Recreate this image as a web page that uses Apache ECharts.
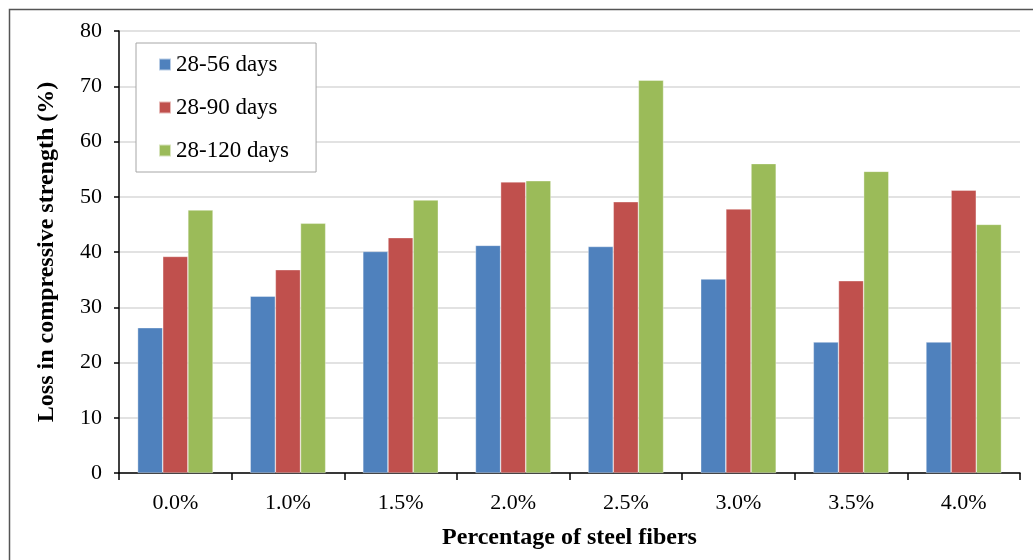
<!DOCTYPE html>
<html>
<head>
<meta charset="utf-8">
<script src="https://cdn.jsdelivr.net/npm/echarts@6/dist/echarts.min.js"></script>
<style>
  html, body { margin: 0; padding: 0; background: #fff; }
  #chart { width: 1033px; height: 560px; }
</style>
</head>
<body>
<div id="chart"></div>
<script>
// Fibre contents along the x axis
const fiberContents = ['0.0%', '1.0%', '1.5%', '2.0%', '2.5%', '3.0%', '3.5%', '4.0%'];

// Loss in compressive strength (%) for each curing interval
const loss28to56 = [26.3, 32.0, 40.1, 41.2, 41.0, 35.1, 23.7, 23.7];
const loss28to90 = [39.2, 36.8, 42.6, 52.7, 49.1, 47.8, 34.8, 51.2];
const loss28to120 = [47.6, 45.2, 49.4, 52.9, 71.1, 56.0, 54.6, 45.0];

const seriesNames = ['28-56 days', '28-90 days', '28-120 days'];
const seriesColors = ['#4F81BD', '#C0504D', '#9BBB59'];

const FONT = '"Liberation Serif", "Times New Roman", serif';

const chart = echarts.init(document.getElementById('chart'), null, { renderer: 'canvas' });

function barSeries(name, data, color) {
  return {
    name: name,
    type: 'bar',
    data: data,
    barGap: '0%',
    barCategoryGap: '33%',
    itemStyle: { color: color, borderColor: 'rgba(255,255,255,0.6)', borderWidth: 0.6 },
    emphasis: { disabled: true }
  };
}

chart.setOption({
  animation: false,
  backgroundColor: '#fff',
  textStyle: { fontFamily: FONT },
  graphic: [{
    type: 'rect',
    left: 7, top: 7,
    shape: { width: 1100, height: 600 },
    style: { fill: 'none', stroke: '#555', lineWidth: 1.5 },
    silent: true,
    z: -10
  }],
  grid: { left: 119, right: 13, top: 31, bottom: 87 },
  legend: {
    orient: 'vertical',
    left: 136, top: 43,
    padding: [10, 27, 10, 22],
    itemWidth: 12, itemHeight: 12,
    itemGap: 20,
    backgroundColor: '#fff',
    borderColor: '#a6a6a6',
    borderWidth: 1,
    icon: 'rect',
    data: seriesNames,
    textStyle: { fontFamily: FONT, fontSize: 23, color: '#000', padding: [0, 0, 0, 0] }
  },
  xAxis: {
    type: 'category',
    data: fiberContents,
    name: 'Percentage of steel fibers',
    nameLocation: 'middle',
    nameGap: 53,
    nameTextStyle: { fontFamily: FONT, fontSize: 24, fontWeight: 'bold', color: '#000' },
    axisLine: { lineStyle: { color: '#000', width: 1.5 } },
    axisTick: { show: true, length: 7, lineStyle: { color: '#000', width: 1.5 } },
    axisLabel: { fontFamily: FONT, fontSize: 22, color: '#000', margin: 19 },
    splitLine: { show: false }
  },
  yAxis: {
    type: 'value',
    min: 0, max: 80, interval: 10,
    name: 'Loss in compressive strength (%)',
    nameLocation: 'middle',
    nameGap: 60,
    nameRotate: 90,
    nameTextStyle: { fontFamily: FONT, fontSize: 24, fontWeight: 'bold', color: '#000' },
    axisLine: { show: true, lineStyle: { color: '#000', width: 1.5 } },
    axisTick: { show: true, length: 5, lineStyle: { color: '#000', width: 1.5 } },
    axisLabel: { fontFamily: FONT, fontSize: 22, color: '#000', margin: 17 },
    splitLine: { show: true, lineStyle: { color: '#d9d9d9', width: 1.5 } }
  },
  series: [
    barSeries(seriesNames[0], loss28to56, seriesColors[0]),
    barSeries(seriesNames[1], loss28to90, seriesColors[1]),
    barSeries(seriesNames[2], loss28to120, seriesColors[2])
  ]
});
</script>
</body>
</html>
